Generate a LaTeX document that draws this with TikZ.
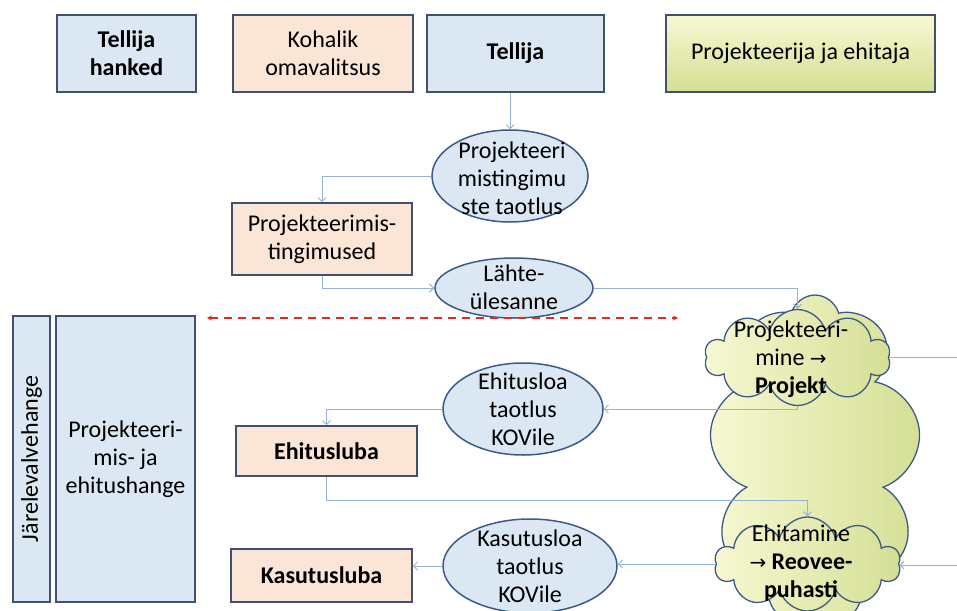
\documentclass[tikz,border=0pt]{standalone}
\usepackage{fontspec}
\setmainfont{Carlito}
\newfontfamily\arrowfont{DejaVu Sans}
\usetikzlibrary{shapes.geometric,shapes.symbols,arrows.meta,calc}
\definecolor{bfill}{RGB}{219,232,243}
\definecolor{pfill}{RGB}{251,229,214}
\definecolor{bdr}{RGB}{64,80,110}
\definecolor{lnk}{RGB}{150,178,214}
\definecolor{ebdr}{RGB}{60,90,135}
\definecolor{yl}{RGB}{247,248,210}
\definecolor{yd}{RGB}{212,223,148}
\definecolor{rd}{RGB}{224,40,40}
\newcommand{\rarr}{{\arrowfont\fontsize{20}{28}\selectfont →}}
\begin{document}
\begin{tikzpicture}[x=1pt,y=-1pt,
  font=\fontsize{24}{28}\selectfont,
  box/.style={draw=bdr, line width=1.6pt, rectangle, inner sep=0pt, align=center},
  bluebox/.style={box, fill=bfill},
  peachbox/.style={box, fill=pfill},
  oval/.style={draw=ebdr, line width=1.5pt, ellipse, fill=bfill, inner sep=0pt},
  txt/.style={align=center, inner sep=0pt},
  link/.style={draw=lnk, line width=1pt, -{Straight Barb[length=4pt,width=8pt]}},
  plainlink/.style={draw=lnk, line width=1pt},
  cloudy/.style={cloud, cloud ignores aspect, draw=ebdr, line width=1.3pt, left color=yl, right color=yd, inner sep=0pt}]
\useasboundingbox (0,0) rectangle (957,610);
\clip (0,0) rectangle (957,610);

% top headers
\node[bluebox, minimum width=139pt, minimum height=77pt] (b1) at (126.5,53.5) {\textbf{Tellija}\\\textbf{hanked}};
\node[peachbox, minimum width=180pt, minimum height=77pt] (b2) at (323,53.5) {Kohalik\\omavalitsus};
\node[bluebox, minimum width=177pt, minimum height=77pt] (b3) at (515.5,53.5) {\textbf{Tellija}};
\node[box, top color=yl, bottom color=yd, minimum width=269pt, minimum height=77pt] (b4) at (800.5,53.5) {Projekteerija ja ehitaja};

% big cloud and small clouds
\node[cloudy, cloud puffs=9, minimum width=212pt, minimum height=330pt] (c0) at (815,460) {};
\node[cloudy, cloud puffs=10, minimum width=186pt, minimum height=96pt] (c1) at (797.5,357.5) {};
\node[txt] (c1t) at (791,359) {Projekteeri-\\mine \rarr\\\textbf{Projekt}};
\node[cloudy, cloud puffs=10, minimum width=186pt, minimum height=94pt] (c2) at (807.5,564) {};
\node[txt] (c2t) at (801,563) {Ehitamine\\\rarr{} \textbf{Reovee-}\\\textbf{puhasti}};

% ellipses
\node[oval, minimum width=156pt, minimum height=92pt] (e1) at (510,176) {};
\node[txt] (e1t) at (512,178) {Projekteeri\\mistingimu\\ste taotlus};
\node[oval, minimum width=158pt, minimum height=60pt] (e2) at (514,288) {};
\node[txt] (e2t) at (514,287) {Lähte-\\ülesanne};
\node[oval, minimum width=160pt, minimum height=92pt] (e3) at (523,409) {};
\node[txt] (e3t) at (e3) {Ehitusloa\\taotlus\\KOVile};
\node[oval, minimum width=174pt, minimum height=94pt] (e4) at (530,566) {};
\node[txt] (e4t) at (530,566) {Kasutusloa\\taotlus\\KOVile};

% boxes
\node[peachbox, minimum width=180pt, minimum height=72pt] (b5) at (322,239) {Projekteerimis-\\tingimused};
\node[peachbox, minimum width=181pt, minimum height=50pt] (b6) at (326.5,451) {\textbf{Ehitusluba}};
\node[peachbox, minimum width=181pt, minimum height=53pt] (b7) at (321.5,575.5) {\textbf{Kasutusluba}};
\node[bluebox, minimum width=37pt, minimum height=286pt] (jl) at (31.5,459) {};
\node[txt, rotate=90] (jlt) at (jl) {Järelevalvehange};
\node[bluebox, minimum width=139pt, minimum height=286pt] (pe) at (125.5,459) {Projekteeri-\\mis- ja\\ehitushange};

% red dashed
\coordinate (dl) at (207,318);
\coordinate (dr) at (678,318);
\draw[rd, line width=1.6pt, dash pattern=on 8pt off 6pt, {Stealth[length=5pt,width=5pt]}-{Stealth[length=5pt,width=5pt]}] (dl) -- (dr);

% connectors
\draw[link] (b3.south -| e1.north) -- (e1.north);
\draw[link] (e1.west) -| (b5.north);
\draw[link] (b5.south) |- (e2.west);
\draw[link] (e2.east) -| (c1.north);
\draw[link] (e3.west) -| (b6.north);
\draw[link] (c1.south) |- (e3.east);
\draw[link] (b6.south) |- (c2.north |- 0,500) -- (c2.north);
\draw[link] (c2.west) -- (c2.west -| e4.east);
\draw[link] (e4.west) -- (e4.west -| b7.east);
\coordinate (r1) at (957,358);
\coordinate (r2) at (957,565);
\draw[plainlink] (c1.east) -- (c1.east -| r1);
\draw[link] (r2) -- (r2 -| c2.east);
\end{tikzpicture}
\end{document}
